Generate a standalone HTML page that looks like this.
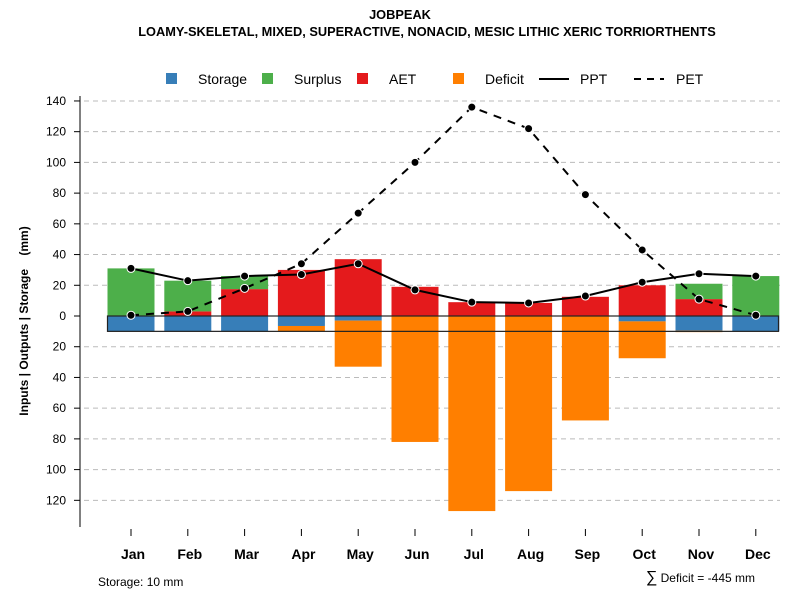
<!DOCTYPE html>
<html><head><meta charset="utf-8"><style>
body{margin:0;background:#fff}
svg text{font-family:"Liberation Sans",sans-serif}
</style></head><body>
<svg id="c" width="800" height="600" xmlns="http://www.w3.org/2000/svg">
<text x="400" y="19" text-anchor="middle" font-size="12.8" font-weight="bold">JOBPEAK</text>
<text x="427" y="36" text-anchor="middle" font-size="12.8" font-weight="bold">LOAMY-SKELETAL, MIXED, SUPERACTIVE, NONACID, MESIC LITHIC XERIC TORRIORTHENTS</text>
<g id="legend">
<rect x="166" y="73" width="11" height="11" fill="#377eb8"/>
<text x="198" y="84" font-size="14">Storage</text>
<rect x="262" y="73" width="11" height="11" fill="#4daf4a"/>
<text x="294" y="84" font-size="14">Surplus</text>
<rect x="357" y="73" width="11" height="11" fill="#e41a1c"/>
<text x="389" y="84" font-size="14">AET</text>
<rect x="453" y="73" width="11" height="11" fill="#ff7f00"/>
<text x="485" y="84" font-size="14">Deficit</text>
<line x1="539" y1="79" x2="569" y2="79" stroke="#000" stroke-width="2"/>
<text x="580" y="84" font-size="14">PPT</text>
<line x1="634" y1="79" x2="664" y2="79" stroke="#000" stroke-width="2" stroke-dasharray="7,6"/>
<text x="676" y="84" font-size="14">PET</text>
</g>
<text transform="translate(28,321) rotate(-90)" text-anchor="middle" font-size="12" font-weight="bold" style="white-space:pre">Inputs | Outputs | Storage    (mm)</text>
<text x="98" y="586" font-size="12">Storage: 10 mm</text>
<text x="755" y="582" text-anchor="end" font-size="12"><tspan font-size="16">∑</tspan> Deficit = -445 mm</text>
</svg>
<script>
const months=["Jan","Feb","Mar","Apr","May","Jun","Jul","Aug","Sep","Oct","Nov","Dec"];
const aet=[0,3,17.5,30,37,19,9,8.5,12.5,20,11,0];
const surplus=[31,20,8.5,0,0,0,0,0,0,0,10,26];
const storage=[10,10,10,6.5,3,0,0,0,0,3.5,9.5,10];
const deficit=[0,0,0,3.5,30,82,127,114,68,24,1,0];
const ppt=[31,23,26,27,34,17,9,8.5,13,22,27.5,26];
const pet=[0.5,3,18,34,67,100,136,122,79,43,11,0.5];
const yTicks=[140,120,100,80,60,40,20,0,-20,-40,-60,-80,-100,-120];
const storageCap=10;
const svg=document.getElementById('c');
const NS="http://www.w3.org/2000/svg";
const y=v=>316-v*1.536;
const x=i=>131+i*56.8;
const bw=47;
function mk(t,a){const e=document.createElementNS(NS,t);for(const k in a)e.setAttribute(k,a[k]);svg.appendChild(e);return e;}
yTicks.forEach(v=>{
 if(v!==0){const g=mk('line',{x1:84,x2:780,y1:y(v),y2:y(v),stroke:'#bbb','stroke-dasharray':'5,4'});
 
 }
 const t=mk('line',{x1:74,x2:80,y1:y(v),y2:y(v),stroke:'#000'});
 
 
 const l=mk('text',{x:66,y:y(v)+4,'text-anchor':'end','font-size':12});
 l.textContent=Math.abs(v);
 
 
});
const ax=mk('line',{x1:80,x2:80,y1:96,y2:527,stroke:'#000'});


months.forEach((m,i)=>{
 const cx=x(i),l=cx-bw/2;
 function bar(v0,v1,col,nm){if(v1===v0)return;const r=mk('rect',{x:l,width:bw,y:Math.min(y(v0),y(v1)),height:Math.abs(y(v1)-y(v0)),fill:col});
  
  }
 bar(0,aet[i],'#e41a1c','bar-aet-'+m.toLowerCase());
 bar(aet[i],aet[i]+surplus[i],'#4daf4a','bar-surplus-'+m.toLowerCase());
 bar(0,-storage[i],'#377eb8','bar-storage-'+m.toLowerCase());
 bar(-storage[i],-storage[i]-deficit[i],'#ff7f00','bar-deficit-'+m.toLowerCase());
 const t=mk('line',{x1:cx,x2:cx,y1:529,y2:536,stroke:'#000'});
 
 
 const lb=mk('text',{x:cx+2,y:559,'text-anchor':'middle','font-size':14,'font-weight':'bold'});
 lb.textContent=m;
 
 
});
const box=mk('rect',{x:107.5,y:y(0),width:671,height:y(-storageCap)-y(0),fill:'none',stroke:'#222','stroke-width':1.2});


function series(arr,dash,nm){
 const p=mk('polyline',{points:arr.map((v,i)=>x(i)+','+y(v)).join(' '),fill:'none',stroke:'#000','stroke-width':2,'stroke-dasharray':dash});
 
 
 arr.forEach((v,i)=>{const c=mk('circle',{cx:x(i),cy:y(v),r:4,fill:'#000',stroke:'#fff','stroke-width':1});
  
  });
}
series(ppt,'none','ppt');
series(pet,'8,7','pet');
</script>
</body></html>
